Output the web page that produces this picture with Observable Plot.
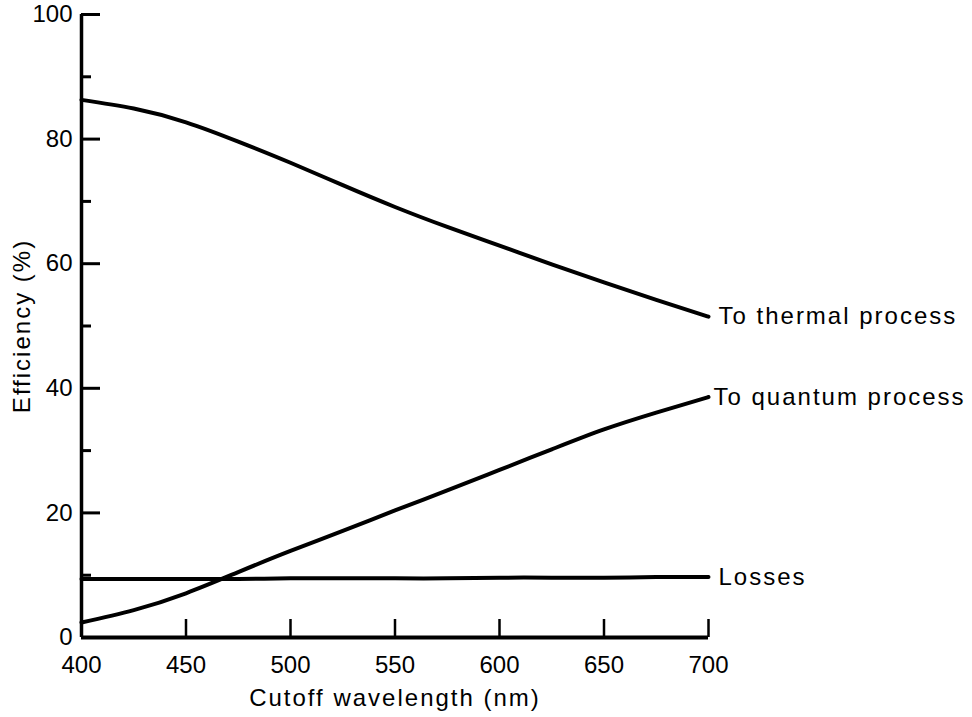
<!DOCTYPE html>
<html><head><meta charset="utf-8">
<script src="https://cdn.jsdelivr.net/npm/d3@7"></script>
<script src="https://cdn.jsdelivr.net/npm/@observablehq/plot@0.6"></script>
<style>body{margin:0;background:#fff}</style>
</head><body><div id="chart"></div>
<script>
const wavelengths = [400, 425, 450, 475, 500, 525, 550, 575, 600, 625, 650, 675, 700];
const thermal = [86.3, 84.9, 82.7, 79.6, 76.2, 72.6, 69.1, 65.9, 62.9, 59.9, 57.0, 54.2, 51.5];
const quantum = [2.4, 4.4, 7.1, 10.5, 13.9, 17.1, 20.4, 23.6, 26.9, 30.2, 33.4, 36.1, 38.6];
const losses = [9.4, 9.4, 9.4, 9.4, 9.5, 9.5, 9.5, 9.5, 9.6, 9.6, 9.6, 9.7, 9.7];
const seriesNames = ["To thermal process", "To quantum process", "Losses"];
const xTicks = [400, 450, 500, 550, 600, 650, 700];
const yTicks = [0, 20, 40, 60, 80, 100];
const yMinorTicks = [10, 30, 50, 70, 90];
const xTitle = "Cutoff wavelength (nm)";
const yTitle = "Efficiency (%)";

const W = 972, H = 717, mL = 81, mR = 264, mT = 14, mB = 80;
const frameW = W - mL - mR, frameH = H - mT - mB;

const rows = [];
[thermal, quantum, losses].forEach((vals, i) =>
  vals.forEach((v, j) => rows.push({series: seriesNames[i], x: wavelengths[j], y: v})));
const lastX = wavelengths[wavelengths.length - 1];
const ends = rows.filter(d => d.x === lastX);
const endsFar = ends.filter(d => d.series !== "To quantum process");
const endsNear = ends.filter(d => d.series === "To quantum process");

const font = "'Liberation Sans', Arial, Helvetica, sans-serif";
const plot = Plot.plot({
  width: W, height: H,
  marginLeft: mL, marginRight: mR, marginTop: mT, marginBottom: mB,
  style: {fontFamily: font, fontSize: "24px", color: "#000", background: "#fff", overflow: "visible"},
  x: {domain: [400, 700]},
  y: {domain: [0, 100]},
  marks: [
    Plot.axisX(xTicks, {tickSize: 0, tickPadding: 18, label: xTitle, labelArrow: "none", labelAnchor: "center", labelOffset: 68, fontSize: 24}),
    Plot.axisY(yTicks, {tickSize: 0, tickPadding: 9, label: yTitle, labelArrow: "none", labelAnchor: "center", labelOffset: 69, fontSize: 24}),
    Plot.tickX(xTicks.slice(1), {x: d => d, insetTop: frameH - 18, strokeWidth: 2.5}),
    Plot.tickY(yTicks.slice(1), {y: d => d, insetRight: frameW - 19, strokeWidth: 3}),
    Plot.tickY(yMinorTicks, {y: d => d, insetRight: frameW - 10, strokeWidth: 3}),
    Plot.ruleX([400], {strokeWidth: 3.5}),
    Plot.ruleY([0], {strokeWidth: 4}),
    Plot.line(rows, {x: "x", y: "y", z: "series", curve: "natural", strokeWidth: 4, stroke: "#000"}),
    Plot.text(endsFar, {x: "x", y: "y", text: "series", dx: 10, textAnchor: "start", fontSize: 24}),
    Plot.text(endsNear, {x: "x", y: "y", text: "series", dx: 5, textAnchor: "start", fontSize: 24})
  ]
});
d3.select(plot).selectAll('g[aria-label="text"] text, g[aria-label="x-axis label"] text, g[aria-label="y-axis label"] text')
  .attr("letter-spacing", "2px");
document.getElementById("chart").appendChild(plot);
</script>
</body></html>
